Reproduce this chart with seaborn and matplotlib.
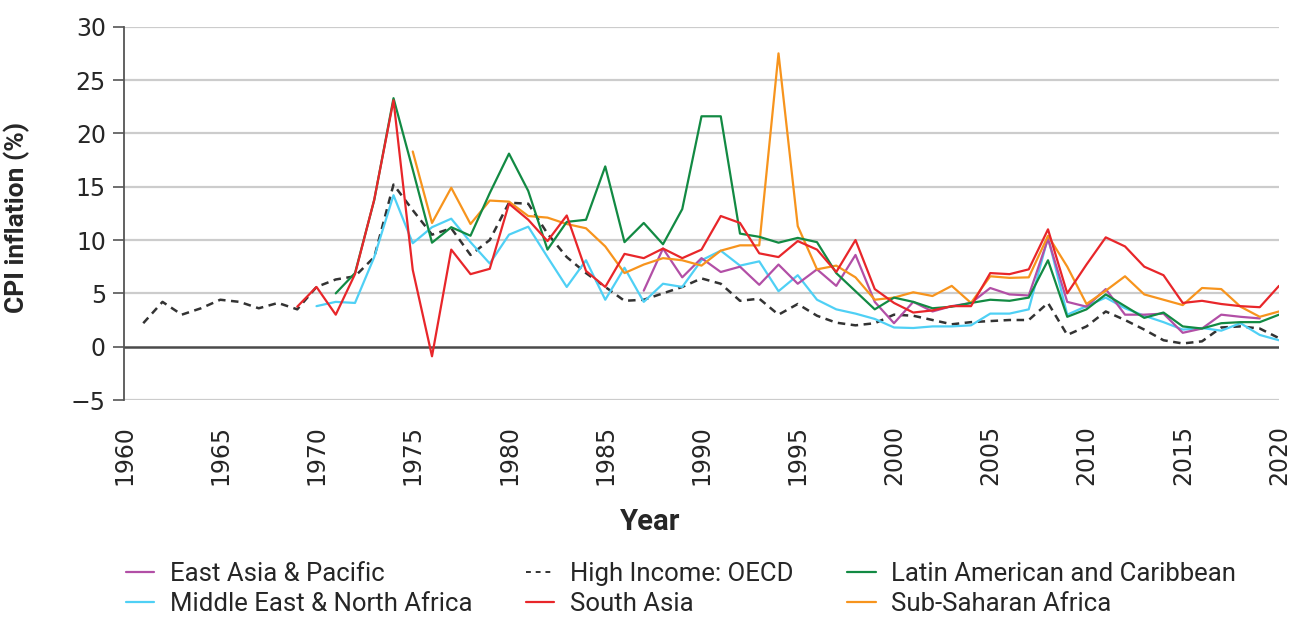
import numpy as np
import pandas as pd
import matplotlib
matplotlib.use("Agg")
import matplotlib.pyplot as plt
import seaborn as sns
from matplotlib.lines import Line2D

# ---------------- data ----------------
high_income_years = list(range(1961, 2021))
high_income = [2.2, 4.2, 3.0, 3.6, 4.4, 4.2, 3.6, 4.1, 3.5, 5.6,
               6.3, 6.6, 8.4, 15.2, 12.8, 10.5, 11.1, 8.6, 10.0, 13.5,
               13.4, 10.6, 8.4, 6.9, 5.6, 4.3, 4.4, 5.0, 5.6, 6.4,
               5.9, 4.3, 4.5, 3.0, 4.0, 2.9, 2.25, 2.0, 2.2, 3.0,
               2.9, 2.5, 2.1, 2.3, 2.4, 2.5, 2.5, 4.1, 1.1, 1.9,
               3.3, 2.5, 1.6, 0.6, 0.3, 0.5, 1.8, 1.9, 1.7, 0.8]

south_asia_years = list(range(1969, 2021))
south_asia = [3.75, 5.6, 3.0, 6.8, 13.8, 23.1, 7.2, -0.9, 9.1, 6.8,
              7.3, 13.4, 11.9, 9.9, 12.3, 7.1, 5.6, 8.7, 8.3, 9.2,
              8.3, 9.1, 12.25, 11.6, 8.75, 8.4, 9.9, 9.1, 7.0, 10.0,
              5.4, 4.1, 3.2, 3.4, 3.8, 3.8, 6.9, 6.8, 7.25, 11.0,
              5.0, 7.7, 10.25, 9.4, 7.5, 6.7, 4.1, 4.3, 4.0, 3.8,
              3.7, 5.7]

latam_years = list(range(1971, 2021))
latam = [5.0, 6.9, 13.75, 23.3, 16.6, 9.75, 11.2, 10.4, 14.4, 18.1,
         14.6, 9.1, 11.7, 11.9, 16.9, 9.8, 11.6, 9.6, 12.9, 21.6,
         21.6, 10.6, 10.3, 9.75, 10.2, 9.8, 6.9, 5.2, 3.5, 4.6,
         4.2, 3.6, 3.75, 4.1, 4.4, 4.3, 4.6, 8.1, 2.8, 3.5,
         4.9, 3.8, 2.7, 3.2, 1.9, 1.7, 2.2, 2.3, 2.3, 3.0]

mena_years = list(range(1970, 2021))
mena = [3.8, 4.2, 4.1, 8.4, 14.2, 9.7, 11.2, 12.0, 9.8, 7.8,
        10.5, 11.25, 8.4, 5.6, 8.1, 4.4, 7.4, 4.2, 5.9, 5.6,
        8.1, 9.0, 7.6, 8.0, 5.2, 6.7, 4.4, 3.5, 3.1, 2.6,
        1.8, 1.75, 1.9, 1.9, 2.0, 3.1, 3.1, 3.5, 10.25, 3.0,
        3.8, 4.6, 3.6, 2.9, 2.3, 1.6, 1.75, 1.5, 2.2, 1.1,
        0.6]

ssa_years = list(range(1975, 2021))
ssa = [18.3, 11.6, 14.9, 11.5, 13.7, 13.6, 12.25, 12.1, 11.5, 11.1,
       9.4, 6.9, 7.7, 8.3, 8.1, 7.6, 9.0, 9.5, 9.5, 27.5,
       11.3, 7.25, 7.6, 6.5, 4.4, 4.6, 5.1, 4.75, 5.7, 4.1,
       6.6, 6.45, 6.5, 10.4, 7.5, 4.0, 5.25, 6.6, 4.9, 4.4,
       3.9, 5.5, 5.4, 3.75, 2.8, 3.3]

eap_years = list(range(1987, 2020))
eap = [5.25, 9.2, 6.5, 8.3, 7.0, 7.5, 5.8, 7.7, 5.9, 7.25,
       5.7, 8.6, 4.2, 2.2, 4.2, 3.3, 3.8, 4.1, 5.5, 4.9,
       4.8, 10.1, 4.2, 3.75, 5.4, 3.0, 3.0, 3.1, 1.3, 1.7,
       3.0, 2.8, 2.65]

x_ticks = list(range(1960, 2021, 5))
y_ticks = list(range(-5, 31, 5))

names = ["East Asia & Pacific", "Middle East & North Africa",
         "High Income: OECD", "South Asia",
         "Latin American and Caribbean", "Sub-Saharan Africa"]
colors = {"East Asia & Pacific": "#b24fa6",
          "Middle East & North Africa": "#4fd0f5",
          "High Income: OECD": "#333333",
          "South Asia": "#e8262a",
          "Latin American and Caribbean": "#128a43",
          "Sub-Saharan Africa": "#f7941d"}

series = {"East Asia & Pacific": (eap_years, eap),
          "Middle East & North Africa": (mena_years, mena),
          "High Income: OECD": (high_income_years, high_income),
          "South Asia": (south_asia_years, south_asia),
          "Latin American and Caribbean": (latam_years, latam),
          "Sub-Saharan Africa": (ssa_years, ssa)}

frames = []
for n in names:
    yrs, vals = series[n]
    frames.append(pd.DataFrame({"Year": yrs, "CPI": vals, "Region": n}))
df = pd.concat(frames, ignore_index=True)

# ---------------- plot ----------------
sns.set_theme(style="white")
plt.rcParams["font.family"] = ["DejaVu Sans"]

fig = plt.figure(figsize=(13.04, 6.22), dpi=100)
ax = fig.add_axes([124 / 1304, 1 - 400 / 622, 1155 / 1304, 373.3 / 622])

ax.set_xlim(1960, 2020)
ax.set_ylim(-5, 30)
for yv in y_ticks:
    if yv != 0:
        ax.axhline(yv, color="#cccccc", lw=1.6, zorder=0)
ax.axhline(0, color="#4a4a4a", lw=1.8, zorder=1)

dash_style = (0, (3.0, 2.2))
draw_order = ["High Income: OECD", "Middle East & North Africa",
              "East Asia & Pacific", "Sub-Saharan Africa",
              "Latin American and Caribbean", "South Asia"]
for n in draw_order:
    sub = df[df["Region"] == n]
    is_dash = n == "High Income: OECD"
    sns.lineplot(data=sub, x="Year", y="CPI", ax=ax, color=colors[n],
                 lw=1.8 if is_dash else 1.6, legend=False, zorder=3,
                 linestyle=dash_style if is_dash else "-")

for s in ["top", "right", "bottom"]:
    ax.spines[s].set_visible(False)
ax.spines["left"].set_color("#555555")
ax.spines["left"].set_linewidth(1.3)

ax.set_xticks(x_ticks)
ax.set_yticks(y_ticks)
ax.set_yticklabels([str(v).replace("-", "\u2212") for v in y_ticks])
ax.tick_params(axis="y", left=True, length=8, width=1.2, color="#555555",
               labelsize=17, pad=5)
ax.tick_params(axis="x", bottom=False, labelsize=17, pad=12, labelrotation=90)

ax.set_xlabel("Year", fontsize=21, fontweight="bold", family="Roboto")
ax.xaxis.set_label_coords((650 - 124) / 1155, -0.29)
ax.set_ylabel("CPI inflation (%)", fontsize=19, fontweight="bold", family="Roboto")
ax.yaxis.set_label_coords((30 - 124) / 1155, 0.49)

handles = []
for n in names:
    if n == "High Income: OECD":
        handles.append(Line2D([0], [0], color=colors[n], lw=1.4, linestyle=(0, (2.5, 2.5))))
    else:
        handles.append(Line2D([0], [0], color=colors[n], lw=1.6))
fig.legend(handles, names, loc="upper left",
           bbox_to_anchor=(126 / 1304, 1 - 562 / 622), ncol=3, frameon=False,
           prop={"family": "Roboto", "size": 18.5}, handlelength=1.1,
           handletextpad=0.6, columnspacing=2.1, labelspacing=0.25,
           borderaxespad=0, borderpad=0)

fig.savefig("out.png", dpi=100)
